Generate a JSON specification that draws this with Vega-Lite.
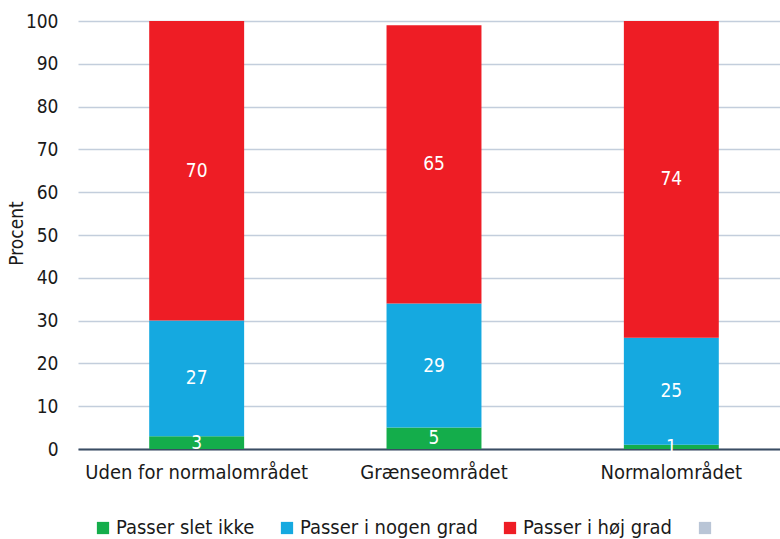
{
  "$schema": "https://vega.github.io/schema/vega-lite/v6.json",
  "autosize": {"type": "none"},
  "padding": {"left": 78, "top": 21, "right": 0, "bottom": 90},
  "width": 712,
  "height": 428,
  "background": "white",
  "config": {
    "font": "Liberation Sans Narrow, DejaVu Sans Condensed, Roboto",
    "view": {"stroke": null},
    "axis": {"labelFont": "Liberation Sans Narrow, DejaVu Sans Condensed, Roboto", "titleFont": "Liberation Sans Narrow, DejaVu Sans Condensed, Roboto", "labelColor": "#1a1a1a", "titleColor": "#1a1a1a"},
    "legend": {"labelFont": "Liberation Sans Narrow, DejaVu Sans Condensed, Roboto"}
  },
  "data": {
    "values": [
      {"group": "Uden for normalområdet", "kategori": "Passer slet ikke", "procent": 3},
      {"group": "Uden for normalområdet", "kategori": "Passer i nogen grad", "procent": 27},
      {"group": "Uden for normalområdet", "kategori": "Passer i høj grad", "procent": 70},
      {"group": "Grænseområdet", "kategori": "Passer slet ikke", "procent": 5},
      {"group": "Grænseområdet", "kategori": "Passer i nogen grad", "procent": 29},
      {"group": "Grænseområdet", "kategori": "Passer i høj grad", "procent": 65},
      {"group": "Normalområdet", "kategori": "Passer slet ikke", "procent": 1},
      {"group": "Normalområdet", "kategori": "Passer i nogen grad", "procent": 25},
      {"group": "Normalområdet", "kategori": "Passer i høj grad", "procent": 74}
    ]
  },
  "transform": [
    {"calculate": "indexof(['Passer slet ikke','Passer i nogen grad','Passer i høj grad'], datum.kategori)", "as": "rank"},
    {"stack": "procent", "groupby": ["group"], "sort": [{"field": "rank", "order": "ascending"}], "as": ["y0", "y1"]},
    {"calculate": "(datum.y0 + datum.y1) / 2", "as": "ymid"}
  ],
  "encoding": {
    "x": {
      "field": "group", "type": "nominal",
      "sort": ["Uden for normalområdet", "Grænseområdet", "Normalområdet"],
      "scale": {"paddingInner": 0.6, "paddingOuter": 0.3},
      "axis": {"title": null, "labelAngle": 0, "labelFontSize": 20, "labelPadding": 13, "labelLimit": 0, "ticks": false, "domainColor": "#3a4d63", "domainWidth": 2, "grid": false}
    }
  },
  "layer": [
    {
      "mark": {"type": "bar"},
      "encoding": {
        "y": {
          "field": "y0", "type": "quantitative",
          "scale": {"domain": [0, 100], "nice": false},
          "axis": {"title": "Procent", "titleFontSize": 19, "titleFontWeight": "normal", "titleX": -62, "titleY": 212, "titleAngle": -90, "titleBaseline": "middle", "titleAlign": "center", "labelFontSize": 19, "labelPadding": 20, "labelOverlap": false, "ticks": false, "domain": false, "values": [0,10,20,30,40,50,60,70,80,90,100], "gridColor": "#c3cedc", "gridWidth": 1.5, "gridOpacity": 1}
        },
        "y2": {"field": "y1"},
        "color": {
          "field": "kategori", "type": "nominal",
          "scale": {
            "domain": ["Passer slet ikke", "Passer i nogen grad", "Passer i høj grad", " "],
            "range": ["#14ad4b", "#15a9e0", "#ee1d25", "#b9c5d6"]
          },
          "legend": {
            "title": null, "orient": "none", "direction": "horizontal", "columns": 4,
            "legendX": 15, "legendY": 497,
            "symbolType": "square", "symbolSize": 150, "symbolStrokeWidth": 0,
            "labelFontSize": 20, "labelLimit": 0, "labelColor": "#1a1a1a", "labelOffset": 3, "columnPadding": 22
          }
        }
      }
    },
    {
      "mark": {"type": "text", "color": "white", "fontSize": 19, "baseline": "middle"},
      "encoding": {
        "y": {"field": "ymid", "type": "quantitative"},
        "text": {"field": "procent", "type": "quantitative"}
      }
    }
  ]
}
